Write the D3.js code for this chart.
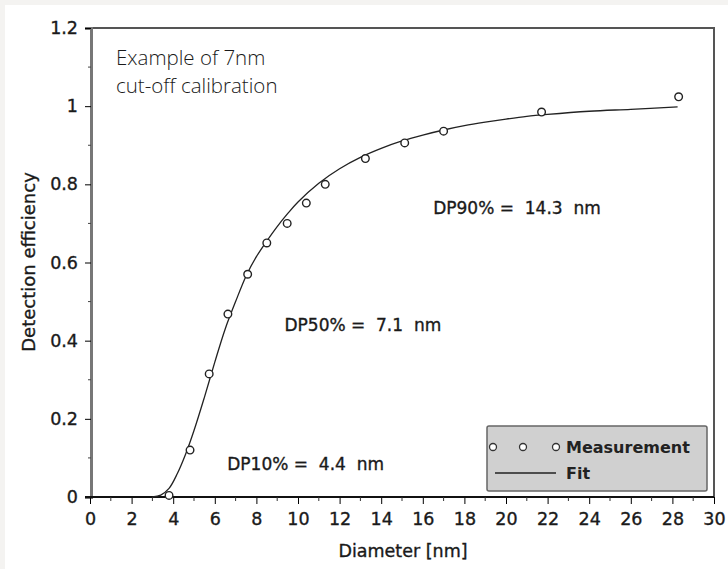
<!DOCTYPE html>
<html>
<head>
<meta charset="utf-8">
<script src="https://cdn.jsdelivr.net/npm/d3@7"></script>
<style>
  body { margin: 0; background: #f4f3f1; }
  #chart { width: 728px; height: 569px; }
</style>
</head>
<body>
<div id="chart"></div>
<script>
// measured points
var measD = [3.8, 4.81, 5.73, 6.63, 7.58, 8.5, 9.48, 10.4, 11.31, 13.24, 15.13, 17.0, 21.71, 28.3];
var measE = [0.004, 0.12, 0.315, 0.468, 0.570, 0.650, 0.70, 0.752, 0.800, 0.866, 0.906, 0.936, 0.985, 1.024];

// fitted curve
var fitD = [3.0, 3.4, 3.8, 4.2, 4.6, 5.0, 5.5, 6.0, 6.5, 7.0, 7.5, 8.0, 8.5, 9.0, 9.5, 10, 11, 12, 13, 14, 15, 16, 17, 18, 19, 20, 21, 22, 24, 26, 28.25];
var fitE = [0, 0.005, 0.022, 0.06, 0.11, 0.17, 0.255, 0.345, 0.43, 0.50, 0.565, 0.615, 0.655, 0.692, 0.725, 0.755, 0.803, 0.84, 0.869, 0.892, 0.911, 0.926, 0.939, 0.95, 0.959, 0.967, 0.974, 0.979, 0.987, 0.992, 0.998];

var xTicks = d3.range(0, 31, 2);
var yTicks = [0, 0.2, 0.4, 0.6, 0.8, 1, 1.2];

var notes = [
    { d: 16.5, e: 0.725, text: "DP90% =  14.3  nm" },
    { d: 9.35, e: 0.425, text: "DP50% =  7.1  nm" },
    { d: 6.6, e: 0.07, text: "DP10% =  4.4  nm" }
];

var svg = d3.select("#chart")
    .append("svg")
    .attr("width", 728)
    .attr("height", 569);

svg.append("rect")
    .attr("x", 5).attr("y", 5)
    .attr("width", 723).attr("height", 564)
    .attr("fill", "#fff");

var margin = { top: 28, right: 15, bottom: 72, left: 91 },
    width = 728 - margin.left - margin.right,
    height = 569 - margin.top - margin.bottom;

var x = d3.scaleLinear().domain([0, 30]).range([-1, width + 1]);
var y = d3.scaleLinear().domain([0, 1.2]).range([height, 0]);

var g = svg.append("g")
    .attr("transform", "translate(" + margin.left + "," + margin.top + ")");

var tickFont = "'DejaVu Sans', sans-serif";

function heavy(sel, size) {
    sel.style("font-family", tickFont)
        .style("font-size", size + "px")
        .attr("fill", "#1a1a1a")
        .attr("stroke", "#1a1a1a")
        .attr("stroke-width", 0.35);
}

// top and right frame
g.append("path")
    .attr("d", "M0,0H" + x(30) + "V" + height)
    .attr("fill", "none")
    .attr("stroke", "#555")
    .attr("stroke-width", 2);

// y axis
var yAxis = g.append("g")
    .call(d3.axisLeft(y).tickValues(yTicks).tickSize(6).tickPadding(7)
        .tickFormat(function (d) { return d3.format("~g")(d); }));
yAxis.select(".domain").attr("stroke", "#777").attr("stroke-width", 3);
heavy(yAxis.selectAll("text"), 17.5);
g.append("g").selectAll("line")
    .data(d3.range(0.1, 1.2, 0.2))
    .enter().append("line")
    .attr("x1", -3).attr("x2", 0)
    .attr("y1", function (d) { return y(d); })
    .attr("y2", function (d) { return y(d); })
    .attr("stroke", "#444");

// x axis
var xAxis = g.append("g")
    .attr("transform", "translate(0," + height + ")")
    .call(d3.axisBottom(x).tickValues(xTicks).tickSize(7).tickPadding(9));
xAxis.select(".domain").remove();
heavy(xAxis.selectAll("text"), 17.5);
g.append("line")
    .attr("x1", -6).attr("x2", x(30))
    .attr("y1", height).attr("y2", height)
    .attr("stroke", "#111").attr("stroke-width", 2);
g.append("g").selectAll("line")
    .data(d3.range(1, 30, 2))
    .enter().append("line")
    .attr("x1", function (d) { return x(d); })
    .attr("x2", function (d) { return x(d); })
    .attr("y1", height).attr("y2", height + 4)
    .attr("stroke", "#333");

// axis titles
heavy(svg.append("text")
    .attr("transform", "translate(35,262) rotate(-90)")
    .attr("text-anchor", "middle")
    .text("Detection efficiency"), 18);

heavy(svg.append("text")
    .attr("x", 403).attr("y", 557)
    .attr("text-anchor", "middle")
    .text("Diameter [nm]"), 17.5);

// fit line
var line = d3.line()
    .x(function (d) { return x(d[0]); })
    .y(function (d) { return y(d[1]); })
    .curve(d3.curveCatmullRom);

g.append("path")
    .datum(d3.zip(fitD, fitE))
    .attr("d", line)
    .attr("fill", "none")
    .attr("stroke", "#222")
    .attr("stroke-width", 1.3);

// measurements
g.selectAll(".pt")
    .data(d3.zip(measD, measE))
    .enter().append("circle")
    .attr("class", "pt")
    .attr("cx", function (d) { return x(d[0]); })
    .attr("cy", function (d) { return y(d[1]); })
    .attr("r", 3.8)
    .attr("fill", "#fff")
    .attr("stroke", "#222")
    .attr("stroke-width", 1.4);

// annotations
heavy(g.selectAll(".note")
    .data(notes)
    .enter().append("text")
    .attr("class", "note")
    .attr("x", function (d) { return x(d.d); })
    .attr("y", function (d) { return y(d.e); })
    .style("white-space", "pre")
    .text(function (d) { return d.text; }), 17);

// title text
var title = svg.append("text")
    .attr("x", 116).attr("y", 65)
    .style("font-family", "'Open Sans', sans-serif")
    .style("font-size", "20.5px")
    .style("font-weight", 300)
    .attr("fill", "#1a1a1a");
title.append("tspan").attr("x", 116).text("Example of 7nm");
title.append("tspan").attr("x", 116).attr("dy", 28).text("cut-off calibration");

// legend
var leg = svg.append("g");
leg.append("rect")
    .attr("x", 487).attr("y", 426)
    .attr("width", 220).attr("height", 65)
    .attr("rx", 2)
    .attr("fill", "#d0d0d0")
    .attr("stroke", "#666")
    .attr("stroke-width", 1.5);
leg.selectAll("circle")
    .data([493, 523, 556])
    .enter().append("circle")
    .attr("cx", function (d) { return d; })
    .attr("cy", 447)
    .attr("r", 3.5)
    .attr("fill", "#fff")
    .attr("stroke", "#333")
    .attr("stroke-width", 1.3);
leg.append("line")
    .attr("x1", 495).attr("x2", 556)
    .attr("y1", 473).attr("y2", 473)
    .attr("stroke", "#222").attr("stroke-width", 1.5);
leg.append("text")
    .attr("x", 566).attr("y", 453)
    .style("font-family", tickFont)
    .style("font-size", "16px")
    .style("font-weight", "bold")
    .attr("fill", "#222")
    .text("Measurement");
leg.append("text")
    .attr("x", 566).attr("y", 479)
    .style("font-family", tickFont)
    .style("font-size", "16px")
    .style("font-weight", "bold")
    .attr("fill", "#222")
    .text("Fit");
</script>
</body>
</html>
